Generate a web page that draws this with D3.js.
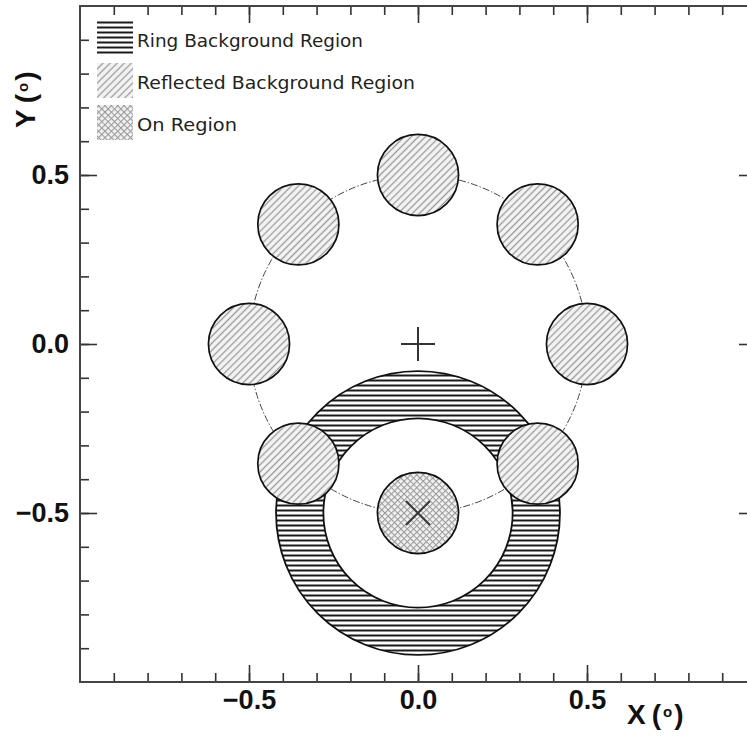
<!DOCTYPE html>
<html>
<head>
<meta charset="utf-8">
<script src="https://cdn.jsdelivr.net/npm/d3@7"></script>
<style>
  html, body { margin: 0; padding: 0; background: #fff; }
  svg { display: block; }
</style>
</head>
<body>
<svg id="chart" width="747" height="736"></svg>
<script>
// Sky-map geometry (degrees)
const observationCenter = [0.0, 0.0];         // "+" marker
const sourceCenter = [0.0, -0.5];             // "×" marker, on-region centre
const onRegionRadius = 0.12;
const ringInnerRadius = 0.28;
const ringOuterRadius = 0.42;
const offsetRadius = 0.5;                     // dash-dot circle through the regions
const reflectedX = [-0.5, -0.354, 0.0, 0.354, 0.5, 0.354, -0.354];
const reflectedY = [0.0, 0.354, 0.5, 0.354, 0.0, -0.354, -0.354];
const reflectedRadius = [0.12, 0.12, 0.12, 0.12, 0.12, 0.12, 0.12];
const legendLabels = ["Ring Background Region", "Reflected Background Region", "On Region"];
const majorTicks = [-0.5, 0.0, 0.5];
const minorTicks = d3.range(-9, 10).map(i => i / 10);

const svg = d3.select("#chart");
const x = d3.scaleLinear().domain([-1, 1]).range([80, 756]);
const y = d3.scaleLinear().domain([-1, 1]).range([682, 6]);
const px = r => x(r) - x(0);   // radius in pixels

// Fill patterns
const defs = svg.append("defs");
const ringPat = defs.append("pattern").attr("id", "ringFill")
  .attr("patternUnits", "userSpaceOnUse").attr("width", 10).attr("height", 5);
ringPat.append("rect").attr("width", 10).attr("height", 5).attr("fill", "#fff");
ringPat.append("line").attr("x1", 0).attr("x2", 10).attr("y1", 2.5).attr("y2", 2.5)
  .attr("stroke", "#1a1a1a").attr("stroke-width", 2);

const reflPat = defs.append("pattern").attr("id", "reflFill")
  .attr("patternUnits", "userSpaceOnUse").attr("width", 5).attr("height", 5)
  .attr("patternTransform", "rotate(45)");
reflPat.append("rect").attr("width", 5).attr("height", 5).attr("fill", "#f4f4f4");
reflPat.append("line").attr("x1", 2.5).attr("x2", 2.5).attr("y1", 0).attr("y2", 5)
  .attr("stroke", "#999").attr("stroke-width", 1.3);

const onPat = defs.append("pattern").attr("id", "onFill")
  .attr("patternUnits", "userSpaceOnUse").attr("width", 4.5).attr("height", 4.5)
  .attr("patternTransform", "rotate(45)");
onPat.append("rect").attr("width", 4.5).attr("height", 4.5).attr("fill", "#f2f2f2");
onPat.append("line").attr("x1", 0).attr("x2", 4.5).attr("y1", 0.5).attr("y2", 0.5)
  .attr("stroke", "#9a9a9a").attr("stroke-width", 1.1);
onPat.append("line").attr("x1", 0.5).attr("x2", 0.5).attr("y1", 0).attr("y2", 4.5)
  .attr("stroke", "#9a9a9a").attr("stroke-width", 1.1);

const plot = svg.append("g");

// Ring background annulus
const annulus = d3.arc()
  .innerRadius(px(ringInnerRadius)).outerRadius(px(ringOuterRadius))
  .startAngle(0).endAngle(2 * Math.PI);
plot.append("path")
  .attr("transform", `translate(${x(sourceCenter[0])},${y(sourceCenter[1])})`)
  .attr("d", annulus())
  .attr("fill", "url(#ringFill)")
  .attr("stroke", "#111").attr("stroke-width", 1.8);

// Dash-dot circle at the offset radius
plot.append("circle")
  .attr("cx", x(observationCenter[0])).attr("cy", y(observationCenter[1]))
  .attr("r", px(offsetRadius))
  .attr("fill", "none").attr("stroke", "#444").attr("stroke-width", 1)
  .attr("stroke-dasharray", "7,2,1.5,2");

// Reflected background regions
plot.selectAll("circle.refl")
  .data(reflectedX.map((d, i) => ({ x: d, y: reflectedY[i], r: reflectedRadius[i] })))
  .join("circle").attr("class", "refl")
  .attr("cx", d => x(d.x)).attr("cy", d => y(d.y)).attr("r", d => px(d.r))
  .attr("fill", "url(#reflFill)").attr("stroke", "#111").attr("stroke-width", 1.7);

// On region
plot.append("circle")
  .attr("cx", x(sourceCenter[0])).attr("cy", y(sourceCenter[1])).attr("r", px(onRegionRadius))
  .attr("fill", "url(#onFill)").attr("stroke", "#111").attr("stroke-width", 1.7);

// Markers
const cx0 = x(observationCenter[0]), cy0 = y(observationCenter[1]);
plot.append("path")
  .attr("d", `M${cx0 - 17},${cy0}H${cx0 + 17}M${cx0},${cy0 - 17}V${cy0 + 17}`)
  .attr("stroke", "#333").attr("stroke-width", 2);
const sx = x(sourceCenter[0]), sy = y(sourceCenter[1]);
plot.append("path")
  .attr("d", `M${sx - 12},${sy - 12}L${sx + 12},${sy + 12}M${sx - 12},${sy + 12}L${sx + 12},${sy - 12}`)
  .attr("stroke", "#333").attr("stroke-width", 1.8);

// Axes: inward ticks on all four sides
const tickFmt = d3.format(".1f");
function addAxis(axisFn, scale, transform, ticks, size, labelled) {
  const ax = axisFn(scale).tickValues(ticks).tickSize(-size).tickPadding(11)
    .tickFormat(labelled ? tickFmt : "");
  const g = svg.append("g").attr("transform", transform).call(ax);
  g.select(".domain").remove();
  g.selectAll(".tick line").attr("stroke", "#333").attr("stroke-width", 1.6);
  g.selectAll(".tick text")
    .attr("font-family", "Liberation Sans, Arial, sans-serif")
    .attr("font-weight", "bold").attr("font-size", 27).attr("fill", "#111");
  return g;
}
addAxis(d3.axisLeft, y, "translate(80,0)", minorTicks, 9, false);
addAxis(d3.axisLeft, y, "translate(80,0)", majorTicks, 17, true);
addAxis(d3.axisRight, y, "translate(756,0)", minorTicks, 9, false);
addAxis(d3.axisRight, y, "translate(756,0)", majorTicks, 17, false);
addAxis(d3.axisBottom, x, "translate(0,682)", minorTicks, 9, false);
addAxis(d3.axisBottom, x, "translate(0,682)", majorTicks, 17, true)
  .selectAll(".tick text").attr("dy", "0.6em");
addAxis(d3.axisTop, x, "translate(0,6)", minorTicks, 9, false);
addAxis(d3.axisTop, x, "translate(0,6)", majorTicks, 17, false);

// Frame
svg.append("rect").attr("x", 80).attr("y", 6).attr("width", 676).attr("height", 676)
  .attr("fill", "none").attr("stroke", "#444").attr("stroke-width", 2);

// Axis titles: letter, then a small degree "o" in parentheses
function degreeTitle(sel, letter) {
  sel.attr("font-family", "Liberation Sans, Arial, sans-serif").attr("font-weight", "bold")
    .attr("font-size", 28).attr("fill", "#111");
  sel.append("tspan").text(letter);
  sel.append("tspan").attr("dx", 6).text("(");
  sel.append("tspan").attr("font-size", 15).attr("dx", 2).attr("dy", -7).text("o");
  sel.append("tspan").attr("dx", 2).attr("dy", 7).text(")");
}
degreeTitle(svg.append("text").attr("x", 627).attr("y", 724), "X");
degreeTitle(svg.append("text").attr("transform", "translate(35,128) rotate(-90)"), "Y");

// Legend
const fills = ["url(#ringFill)", "url(#reflFill)", "url(#onFill)"];
const widths = [226, 278, 100];
const leg = svg.append("g");
legendLabels.forEach((lab, i) => {
  const top = 21 + i * 42;
  leg.append("rect").attr("x", 97).attr("y", top).attr("width", 36).attr("height", 35)
    .attr("fill", fills[i]);
  leg.append("text").attr("x", 137).attr("y", top + 26)
    .attr("font-family", "DejaVu Sans, sans-serif").attr("font-size", 17)
    .attr("fill", "#222").attr("textLength", widths[i]).attr("lengthAdjust", "spacingAndGlyphs")
    .text(lab);
});
</script>
</body>
</html>
